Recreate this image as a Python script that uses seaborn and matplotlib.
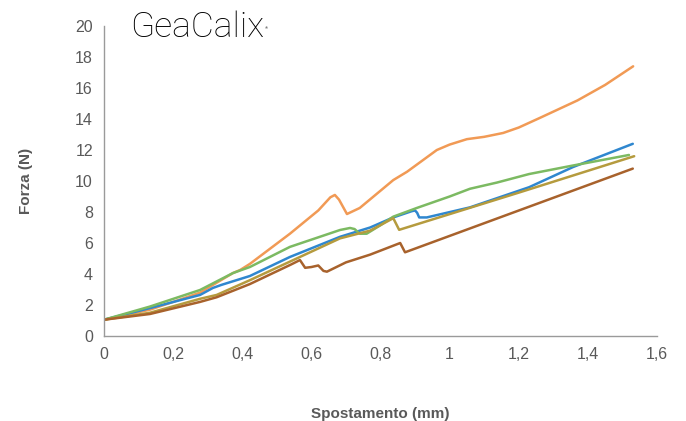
import pandas as pd
import matplotlib.pyplot as plt
import matplotlib.ticker as ticker
import seaborn as sns

# Forza vs spostamento, five samples
orange_x = [0, 0.133, 0.2, 0.278, 0.373, 0.394, 0.422, 0.538, 0.62, 0.655, 0.668, 0.68, 0.703, 0.74, 0.837,
            0.877, 0.963, 1.0, 1.05, 1.1, 1.155, 1.2, 1.26, 1.37, 1.45, 1.531]
orange_y = [1.05, 1.7, 2.2, 2.8, 4.06, 4.26, 4.65, 6.6, 8.1, 8.95, 9.1, 8.8, 7.87, 8.26, 10.06,
            10.6, 12.0, 12.35, 12.7, 12.85, 13.1, 13.45, 14.06, 15.2, 16.2, 17.4]

blue_x = [0, 0.133, 0.278, 0.315, 0.34, 0.422, 0.538, 0.683, 0.77, 0.837, 0.89, 0.9, 0.906, 0.912, 0.934,
          1.059, 1.23, 1.357, 1.53]
blue_y = [1.05, 1.8, 2.65, 3.1, 3.3, 3.87, 5.1, 6.4, 7.0, 7.65, 8.05, 8.1, 7.95, 7.65, 7.65,
          8.3, 9.6, 10.9, 12.4]

green_x = [0, 0.133, 0.278, 0.373, 0.422, 0.538, 0.683, 0.712, 0.725, 0.74, 0.76, 0.8, 0.837, 0.905,
           1.0, 1.059, 1.137, 1.23, 1.357, 1.519]
green_y = [1.05, 1.9, 2.97, 4.06, 4.45, 5.75, 6.84, 6.97, 6.9, 6.6, 6.6, 7.15, 7.7, 8.26,
           9.0, 9.5, 9.9, 10.45, 11.0, 11.68]

gold_x = [0, 0.133, 0.278, 0.326, 0.422, 0.538, 0.683, 0.77, 0.837, 0.854, 1.2, 1.534]
gold_y = [1.05, 1.5, 2.4, 2.65, 3.6, 4.8, 6.3, 6.8, 7.6, 6.85, 9.25, 11.6]

brown_x = [0, 0.133, 0.278, 0.326, 0.422, 0.54, 0.567, 0.582, 0.6, 0.62, 0.635, 0.645, 0.7, 0.77, 0.857,
           0.871, 1.53]
brown_y = [1.05, 1.42, 2.2, 2.5, 3.35, 4.6, 4.9, 4.4, 4.45, 4.55, 4.2, 4.15, 4.75, 5.25, 6.0,
           5.4, 10.8]

series = {
    "orange": (orange_x, orange_y),
    "blue": (blue_x, blue_y),
    "green": (green_x, green_y),
    "gold": (gold_x, gold_y),
    "brown": (brown_x, brown_y),
}
colors = {"orange": "#f19a55", "blue": "#2f87cf", "green": "#7cba62",
          "gold": "#b59b3e", "brown": "#a8622c"}

rows = []
for name, (xs, ys) in series.items():
    for i, (x, y) in enumerate(zip(xs, ys)):
        rows.append({"serie": name, "idx": i, "x": x, "y": y})
df = pd.DataFrame(rows)

sns.set_theme(style="white")
plt.rcParams["font.family"] = ["Liberation Sans", "DejaVu Sans"]

fig = plt.figure(figsize=(6.86, 4.21), dpi=100)
ax = fig.add_axes([0.1516, 0.2019, 0.8061, 0.7363])

sns.lineplot(data=df, x="x", y="y", hue="serie", palette=colors, units="serie",
             estimator=None, sort=False, linewidth=1.8, legend=False, ax=ax)

ax.set_xlim(0, 1.6)
ax.set_ylim(0, 20)
ax.set_xticks([0, 0.2, 0.4, 0.6, 0.8, 1.0, 1.2, 1.4, 1.6])
ax.set_yticks(range(0, 21, 2))

def comma(v, pos):
    s = f"{v:.1f}".rstrip("0").rstrip(".")
    return s.replace(".", ",")

ax.xaxis.set_major_formatter(ticker.FuncFormatter(comma))
ax.tick_params(axis="both", labelsize=11.5, colors="#595959", length=0, pad=8)

for side in ["top", "right"]:
    ax.spines[side].set_visible(False)
for side in ["left", "bottom"]:
    ax.spines[side].set_color("#9a9a9a")
    ax.spines[side].set_linewidth(1.0)

ax.set_xlabel("Spostamento (mm)", fontsize=11, fontweight="bold", color="#595959", labelpad=32)
ax.set_ylabel("Forza (N)", fontsize=11, fontweight="bold", color="#595959", labelpad=30)

# logo text, with the small registered mark right after it
logo = fig.text(0.189, 0.913, "GeaCalix", fontsize=25.5, fontweight="light", color="#000000",
                family=["Roboto", "DejaVu Sans"])
fig.canvas.draw()
bb = logo.get_window_extent().transformed(fig.transFigure.inverted())
fig.text(bb.x1 + 0.002, bb.y1 - 0.045, "®", fontsize=3, color="#000000")

fig.savefig("out.png", dpi=100, facecolor="white")
